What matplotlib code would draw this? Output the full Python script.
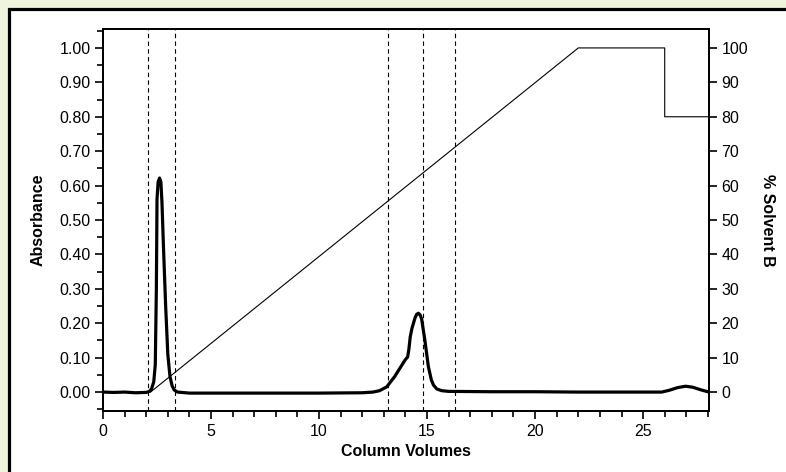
import matplotlib
matplotlib.use("Agg")
import matplotlib.pyplot as plt
from matplotlib.patches import Rectangle
from matplotlib.ticker import MultipleLocator, FormatStrFormatter

plt.rcParams['font.family'] = ['Liberation Sans', 'DejaVu Sans']

# Absorbance trace (column volumes, absorbance)
cv = [0.0, 0.5, 1.0, 1.5, 2.0, 2.15, 2.25, 2.35, 2.42, 2.47, 2.5, 2.55, 2.62, 2.68,
      2.73, 2.8, 2.9, 3.0, 3.1, 3.2, 3.3, 3.45, 4.0, 6.0, 8.0, 10.0, 12.0, 12.5,
      12.8, 13.13, 13.5, 13.98, 14.1, 14.16, 14.22, 14.3, 14.44, 14.52, 14.6, 14.68,
      14.75, 14.9, 15.06, 15.2, 15.3, 15.45, 15.68, 16.0, 18.0, 20.0, 22.0, 24.0,
      25.86, 26.2, 26.6, 26.97, 27.3, 27.7, 28.05]
absorbance = [0.0, -0.001, 0.0, -0.002, -0.001, 0.002, 0.01, 0.03, 0.08, 0.3, 0.56,
              0.61, 0.622, 0.61, 0.55, 0.42, 0.25, 0.11, 0.045, 0.018, 0.006, 0.0,
              -0.003, -0.003, -0.003, -0.003, -0.002, 0.0, 0.004, 0.015, 0.045, 0.093,
              0.102, 0.125, 0.16, 0.185, 0.215, 0.226, 0.229, 0.224, 0.212, 0.15, 0.074,
              0.035, 0.02, 0.009, 0.004, 0.002, 0.001, 0.001, 0.0, 0.0,
              0.0, 0.005, 0.013, 0.017, 0.014, 0.006, 0.0]

# Gradient (% solvent B)
grad_cv = [2.2, 22.0, 26.0, 26.0, 28.05]
grad_b = [0.0, 100.0, 100.0, 80.0, 80.0]

# Fraction markers
fraction_cv = [2.08, 3.33, 13.19, 14.81, 16.3]

fig = plt.figure(figsize=(7.86, 4.72), dpi=100)
fig.patch.set_facecolor('#EEF5DC')
W, H = 786, 472
frame = Rectangle((8.5 / W, -0.1), 1.2, (H - 8.5) / H + 0.1,
                  transform=fig.transFigure, facecolor='white',
                  edgecolor='black', linewidth=2.3, zorder=-10)
fig.patches.append(frame)

ax = fig.add_axes([103 / W, 1 - 411 / H, (709 - 103) / W, (411 - 29) / H])
ax.set_facecolor('white')
ax.set_xlim(0, 28.05)
ax.set_ylim(-0.055, 1.055)

for xv in fraction_cv:
    ax.axvline(xv, color='black', linewidth=0.8, linestyle=(0, (4, 3)), zorder=1)

ax.plot(cv, absorbance, color='black', linewidth=2.3, solid_joinstyle='round',
        solid_capstyle='round', zorder=3)

ax2 = ax.twinx()
ax2.set_ylim(-5.5, 105.5)
ax2.plot(grad_cv, grad_b, color='black', linewidth=0.8, zorder=2)

ax.xaxis.set_major_locator(MultipleLocator(5))
ax.xaxis.set_minor_locator(MultipleLocator(1))
ax.yaxis.set_major_locator(MultipleLocator(0.1))
ax.yaxis.set_minor_locator(MultipleLocator(0.05))
ax.yaxis.set_major_formatter(FormatStrFormatter('%.2f'))
ax2.yaxis.set_major_locator(MultipleLocator(10))

for a in (ax, ax2):
    a.tick_params(which='major', direction='out', length=6, width=1.2,
                  labelsize=11.5, colors='black', pad=3)
    a.tick_params(which='minor', direction='out', length=4, width=1.2)
    for s in a.spines.values():
        s.set_linewidth(1.3)

ax.set_ylim(-0.055, 1.055)
ax.set_xlabel('Column Volumes', fontsize=11.5, fontweight='bold', labelpad=4)
ax.set_ylabel('Absorbance', fontsize=11.5, fontweight='bold', labelpad=10)
ax2.set_ylabel('% Solvent B', fontsize=11.5, fontweight='bold', rotation=-90,
               labelpad=19)

fig.savefig('out.png', dpi=100, facecolor=fig.get_facecolor())
